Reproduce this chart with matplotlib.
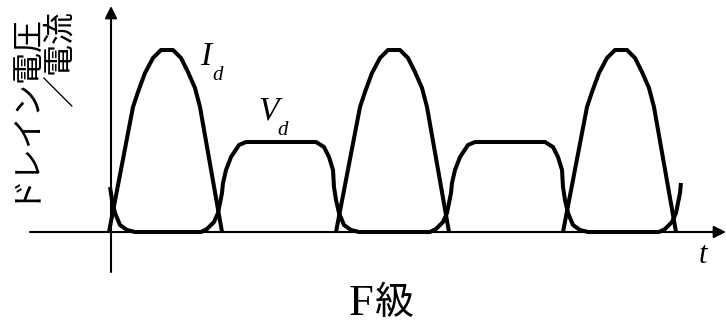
import numpy as np
import matplotlib
matplotlib.use("Agg")
import matplotlib.pyplot as plt

# time axis in arbitrary units, amplitude in arbitrary units (baseline = 0)
# drain current pulse shape, offsets from the start of each pulse
id_offset = [0, 24, 29, 36, 44, 52, 64, 72, 79, 86, 91, 113]
id_height = [0, 125, 140, 159, 174, 182, 182, 174, 160, 144, 125, 0]
id_starts = [-2, 225, 452]

# drain voltage pulse shape, offsets from the centre of each flat top
vd_offset = [-80, -74, -67, -63, -59, -58, -55, -50, -42, -35,
             35, 43, 48, 52, 53, 55, 58, 63, 70, 78]
vd_height = [0, 3, 10, 19, 39, 49, 62, 75, 87, 90,
             90, 85, 75, 62, 45, 32, 19, 7, 2, 0]
vd_centers = [-54, 170, 399, 628]
vd_window = (-1, 570)

fig = plt.figure(figsize=(7.26, 3.24), dpi=100)
ax = fig.add_axes([0, 0, 1, 1])
ax.set_xlim(-111, 615)
ax.set_ylim(-92, 232)
ax.axis("off")

# axes with arrows
arrow = dict(arrowstyle="-|>", lw=1.5, color="black", mutation_scale=18,
             shrinkA=0, shrinkB=0)
ax.annotate("", xy=(615, 0), xytext=(-81, 0), arrowprops=arrow)
ax.annotate("", xy=(0, 226), xytext=(0, -40), arrowprops=arrow)

# I_d pulses
for s in id_starts:
    ax.plot(np.array(id_offset) + s, id_height, color="black", lw=2.9,
            solid_joinstyle="round", solid_capstyle="butt")

# V_d waveform
vt = np.concatenate([np.array(vd_offset) + c for c in vd_centers])
vv = np.concatenate([vd_height for c in vd_centers])
keep = (vt >= vd_window[0]) & (vt <= vd_window[1])
ax.plot(vt[keep], vv[keep], color="black", lw=2.9,
        solid_joinstyle="round", solid_capstyle="butt")

serif = "Liberation Serif"
ax.text(89, 167, "I", family=serif, style="italic", fontsize=24,
        ha="left", va="baseline")
ax.text(101, 152, "d", family=serif, style="italic", fontsize=15,
        ha="left", va="baseline")
ax.text(147, 112, "V", family=serif, style="italic", fontsize=24,
        ha="left", va="baseline")
ax.text(166, 97, "d", family=serif, style="italic", fontsize=15,
        ha="left", va="baseline")
ax.text(588, -31, "t", family=serif, style="italic", fontsize=22,
        ha="left", va="baseline")

ax.text(238, -83, "F", family=serif, fontsize=32, ha="left", va="baseline")
ax.text(264, -71, "級", family="Noto Sans CJK JP", fontsize=28,
        ha="left", va="center")

# vertical axis label in two columns
ax.text(-89, 222, "ドレイン電圧", family="Noto Sans CJK JP", fontsize=23,
        rotation=90, ha="center", va="top")
ax.text(-51, 222, "／電流", family="Noto Sans CJK JP", fontsize=23,
        rotation=90, ha="center", va="top")

plt.savefig("out.png", dpi=100)
